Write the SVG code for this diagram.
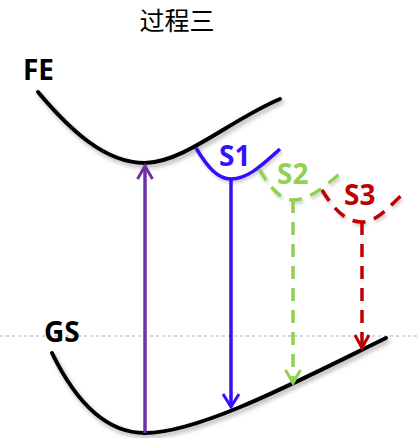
<svg xmlns="http://www.w3.org/2000/svg" width="419" height="438" viewBox="0 0 419 438">
<style>
.lbl{font-family:"Noto Sans","Open Sans",sans-serif;font-weight:bold;font-size:28px}
.title{font-family:"Noto Sans CJK SC","Noto Sans",sans-serif;font-size:25px;fill:#000}
.pes{fill:none;stroke:#000;stroke-width:4;stroke-linecap:round;filter:url(#sh)}
.st{fill:none;stroke-width:3.5;filter:url(#sh2)}
.dash{stroke-dasharray:13 9}
</style>
<defs>
<filter id="sh" x="-10%" y="-20%" width="130%" height="150%">
<feDropShadow dx="2" dy="3" stdDeviation="2" flood-color="#000" flood-opacity="0.3"/>
</filter>
<filter id="sh2" x="-20%" y="-30%" width="150%" height="180%">
<feDropShadow dx="1.5" dy="2.5" stdDeviation="1.5" flood-color="#000" flood-opacity="0.2"/>
</filter>
<marker id="ap" markerUnits="userSpaceOnUse" markerWidth="40" markerHeight="40" viewBox="-20 -20 40 40" refX="0" refY="0" orient="auto" overflow="visible"><path d="M-13,-7.5 L0,0 L-13,7.5" fill="none" stroke="#7030A0" stroke-width="3"/></marker>
<marker id="ab" markerUnits="userSpaceOnUse" markerWidth="40" markerHeight="40" viewBox="-20 -20 40 40" refX="0" refY="0" orient="auto" overflow="visible"><path d="M-13,-8 L0,0 L-13,8" fill="none" stroke="#3311FF" stroke-width="3"/></marker>
<marker id="ag" markerUnits="userSpaceOnUse" markerWidth="40" markerHeight="40" viewBox="-20 -20 40 40" refX="0" refY="0" orient="auto" overflow="visible"><path d="M-13,-7.5 L0,0 L-13,7.5" fill="none" stroke="#92D050" stroke-width="3"/></marker>
<marker id="ar" markerUnits="userSpaceOnUse" markerWidth="40" markerHeight="40" viewBox="-20 -20 40 40" refX="0" refY="0" orient="auto" overflow="visible"><path d="M-13,-7 L0,0 L-13,7" fill="none" stroke="#C00000" stroke-width="3"/></marker>
</defs>
<rect width="419" height="438" fill="#fff"/>
<line x1="0" y1="336" x2="419" y2="336" stroke="#aaa" stroke-width="1" stroke-dasharray="3 3"/>
<text class="title" x="177" y="30" text-anchor="middle">过程三</text>
<g id="FE">
<path class="pes" d="M38,92 C70,130 105,163 145,163 C185,162 230,120 280,99"/>
<text class="lbl" x="23" y="80">FE</text>
</g>
<g id="GS">
<path class="pes" d="M52,353 C70,390 100,433 145,433 C200,433 300,380 386,338"/>
<text class="lbl" x="44" y="342">GS</text>
</g>
<g id="S1">
<path class="st" d="M196,148 C208,168 218,179 231,179 C248,179 262,165 280,149" stroke="#3311FF"/>
<text class="lbl" x="219" y="166" fill="#3311FF">S1</text>
</g>
<g id="S2">
<path class="st dash" d="M259,169 C270,187 280,200 293,200 C310,200 325,186 342,172" stroke="#92D050"/>
<text class="lbl" x="277" y="184" fill="#92D050">S2</text>
</g>
<g id="S3">
<path class="st dash" d="M322,190 C333,208 345,222 362,222 C378,222 390,205 405,192" stroke="#C00000"/>
<text class="lbl" x="344" y="205" fill="#C00000">S3</text>
</g>
<g id="connectors">
<line x1="145" y1="433" x2="145" y2="166" stroke="#7030A0" stroke-width="3.5" marker-end="url(#ap)"/>
<line x1="231" y1="179" x2="231" y2="407" stroke="#3311FF" stroke-width="3.5" marker-end="url(#ab)"/>
<line class="dash" x1="293" y1="200" x2="293" y2="383" stroke="#92D050" stroke-width="3.5" marker-end="url(#ag)"/>
<line class="dash" x1="362" y1="222" x2="362" y2="348" stroke="#C00000" stroke-width="3.5" marker-end="url(#ar)"/>
</g>
</svg>
